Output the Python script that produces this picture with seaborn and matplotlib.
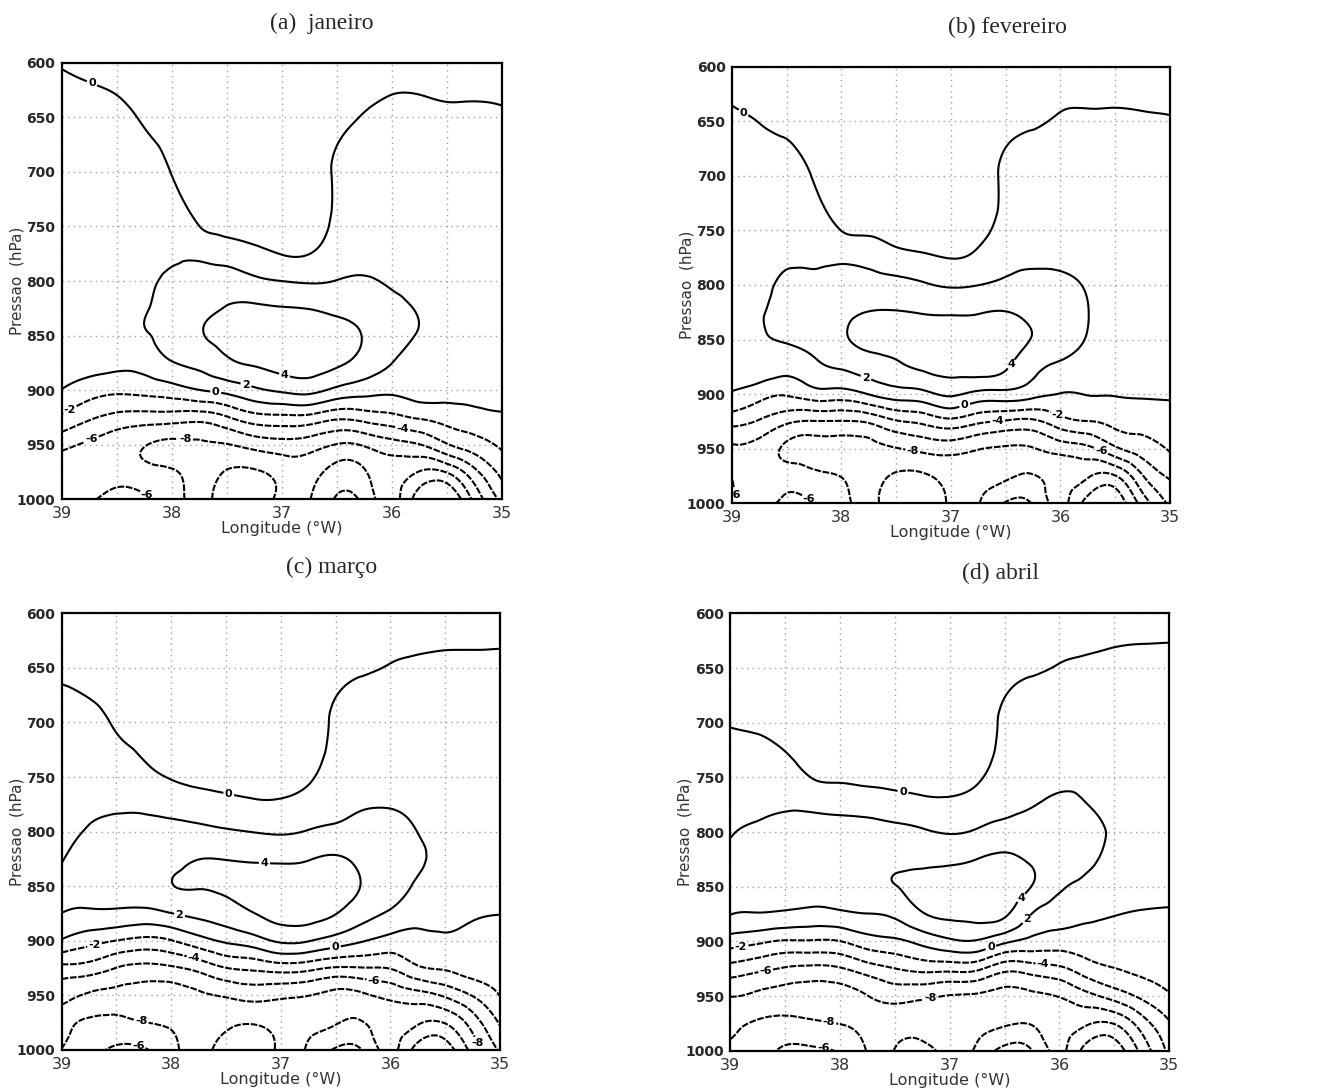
import numpy as np
import matplotlib
matplotlib.use("Agg")
import matplotlib.pyplot as plt
import matplotlib.tri as mtri
import seaborn as sns

sns.set_style("white")
plt.rcParams["font.family"] = ["DejaVu Sans"]

# Grid of the cross-section (longitude in degrees W, pressure in hPa)
lons = [39.0, 38.75, 38.5, 38.25, 38.0, 37.75, 37.5, 37.25, 37.0,
        36.75, 36.5, 36.25, 36.0, 35.75, 35.5, 35.25, 35.0]
plevs = [600, 650, 700, 750, 775, 800, 825, 850, 875, 900, 925, 950, 975, 1000]
clevs = [-12, -10, -8, -6, -4, -2, 0, 2, 4]
label_levs = [-8, -6, -4, -2, 0, 2, 4]

# Values: one profile per longitude (600 -> 1000 hPa)
jan = [
    [-0.15, 0.9, 1.1, 1.3, 1.4, 1.5, 1.6, 1.6, 1.0, -0.05, -2.4, -5.4, -7.2, -7.0],
    [-0.6, 0.8, 1.1, 1.3, 1.4, 1.5, 1.7, 1.7, 0.9, -1.1, -3.7, -6.4, -7.5, -6.4],
    [-1.0, 0.5, 1.1, 1.3, 1.4, 1.6, 1.8, 1.8, 0.6, -1.6, -4.6, -7.2, -7.0, -5.0],
    [-1.3, -0.2, 0.8, 1.2, 1.4, 1.7, 1.9, 1.9, 0.8, -1.4, -4.9, -7.9, -7.4, -5.6],
    [-1.5, -0.8, -0.05, 1.3, 1.8, 2.3, 2.6, 2.6, 1.9, -0.9, -5.0, -8.4, -7.8, -7.0],
    [-1.5, -1.2, -0.8, 0.02, 1.6, 2.6, 3.4, 3.8, 2.5, -0.05, -5.2, -8.3, -9.0, -9.2],
    [-1.6, -1.4, -1.0, -0.5, 1.1, 2.9, 4.1, 4.6, 3.6, 0.6, -4.2, -8.1, -10.1, -10.6],
    [-1.7, -1.5, -1.2, -0.7, 0.5, 2.4, 4.3, 5.0, 4.2, 1.6, -2.8, -7.3, -10.2, -10.8],
    [-1.8, -1.6, -1.3, -0.9, -0.05, 2.0, 4.1, 5.0, 4.6, 2.3, -2.5, -6.8, -9.4, -9.6],
    [-1.8, -1.6, -1.3, -0.8, -0.02, 1.8, 3.95, 5.0, 4.8, 2.6, -2.6, -7.1, -9.2, -9.9],
    [-1.6, -0.6, 0.3, 0.4, 0.9, 2.05, 3.6, 4.6, 4.3, 1.5, -3.6, -8.1, -10.8, -12.2],
    [-1.3, 0.1, 0.8, 1.0, 1.4, 2.2, 3.3, 3.9, 3.3, 0.8, -3.2, -7.8, -10.2, -11.4],
    [-1.0, 0.5, 0.9, 1.2, 1.5, 1.8, 2.5, 2.7, 2.02, 0.4, -2.6, -6.8, -9.0, -9.3],
    [-1.0, 0.5, 0.9, 1.2, 1.4, 1.6, 1.9, 1.9, 1.4, 0.8, -1.8, -6.1, -10.1, -13.2],
    [-1.0, 0.3, 0.8, 1.1, 1.3, 1.4, 1.6, 1.6, 1.3, 0.9, -1.3, -4.2, -9.9, -14.3],
    [-1.0, 0.3, 0.8, 1.0, 1.2, 1.3, 1.4, 1.5, 1.4, 1.0, -0.8, -2.9, -6.6, -9.5],
    [-1.0, 0.2, 0.7, 0.9, 1.0, 1.1, 1.2, 1.3, 1.2, 0.9, -0.3, -1.7, -3.4, -5.5],
]

fev = [
    [-1.0, 0.4, 1.0, 1.2, 1.3, 1.4, 1.5, 1.5, 1.0, -0.2, -3.3, -6.3, -6.05, -5.8],
    [-1.4, -0.05, 0.9, 1.3, 1.5, 1.7, 1.9, 1.9, 1.3, -1.2, -4.2, -6.9, -7.6, -6.6],
    [-1.6, -0.6, 1.0, 1.5, 1.8, 2.2, 2.4, 2.15, 0.7, -1.8, -5.6, -8.3, -7.0, -5.6],
    [-1.7, -1.1, -0.15, 1.2, 1.75, 2.4, 2.9, 2.8, 1.5, -0.9, -6.1, -8.6, -7.6, -5.9],
    [-1.8, -1.5, -1.0, -0.02, 1.6, 2.8, 3.5, 3.7, 2.2, -0.9, -6.1, -8.7, -8.05, -7.2],
    [-1.8, -1.6, -1.2, -0.3, 1.4, 2.7, 4.05, 4.6, 2.9, 0.05, -5.7, -8.6, -9.2, -9.4],
    [-1.8, -1.7, -1.4, -0.8, 0.7, 2.6, 4.1, 4.8, 3.6, 1.0, -4.2, -8.1, -10.2, -10.6],
    [-1.8, -1.7, -1.5, -1.0, 0.3, 2.2, 3.9, 4.9, 4.3, 1.4, -3.5, -7.5, -10.2, -10.8],
    [-1.8, -1.8, -1.5, -1.1, -0.05, 1.8, 3.8, 5.0, 4.6, 2.3, -2.6, -7.2, -9.5, -9.8],
    [-1.8, -1.6, -1.2, -0.5, 0.4, 1.98, 3.9, 5.0, 4.9, 1.4, -3.6, -7.9, -9.5, -9.9],
    [-1.5, -0.6, 0.4, 0.6, 1.3, 2.4, 4.05, 4.8, 4.2, 1.3, -4.2, -8.2, -9.7, -12.2],
    [-1.4, -0.2, 0.8, 1.1, 1.6, 2.6, 3.5, 3.9, 2.6, 0.6, -4.4, -8.1, -10.1, -11.8],
    [-1.2, 0.2, 0.9, 1.3, 1.7, 2.3, 2.8, 2.9, 1.6, -0.05, -2.8, -7.2, -9.3, -9.5],
    [-1.2, 0.3, 1.0, 1.3, 1.6, 1.9, 2.02, 1.9, 1.2, 0.05, -2.05, -6.5, -9.8, -13.0],
    [-1.2, 0.3, 0.9, 1.2, 1.4, 1.5, 1.6, 1.6, 1.1, 0.1, -1.5, -4.4, -10.1, -13.5],
    [-1.1, 0.2, 0.8, 1.1, 1.2, 1.3, 1.4, 1.4, 1.0, 0.2, -1.2, -3.0, -6.1, -9.2],
    [-1.0, 0.1, 0.6, 0.9, 1.0, 1.1, 1.2, 1.2, 0.9, 0.2, -0.7, -1.8, -3.7, -5.6],
]

mar = [
    [-1.4, -0.3, 0.6, 1.0, 1.2, 1.6, 1.95, 2.3, 1.98, -0.2, -4.6, -7.4, -8.6, -7.95],
    [-1.6, -0.7, 0.5, 1.2, 1.7, 2.1, 2.4, 2.4, 1.7, -1.3, -4.9, -8.2, -7.7, -6.6],
    [-1.7, -1.1, -0.2, 1.2, 1.8, 2.4, 2.7, 2.7, 1.6, -2.05, -6.05, -8.4, -7.5, -5.7],
    [-1.8, -1.5, -0.8, 0.5, 1.6, 2.6, 3.2, 3.2, 1.4, -2.6, -6.6, -8.7, -7.95, -5.8],
    [-1.8, -1.7, -1.2, -0.1, 1.2, 2.6, 3.5, 3.95, 1.95, -2.1, -6.3, -8.8, -8.3, -7.4],
    [-1.8, -1.7, -1.4, -0.5, 0.9, 2.5, 3.98, 4.1, 2.5, -0.8, -5.4, -8.3, -9.0, -9.3],
    [-1.8, -1.7, -1.5, -0.8, 0.6, 2.2, 3.95, 4.3, 3.1, 0.3, -4.05, -7.8, -9.7, -10.5],
    [-1.8, -1.7, -1.6, -1.0, 0.3, 1.95, 3.8, 4.6, 3.95, 1.1, -3.6, -7.3, -9.9, -10.7],
    [-1.8, -1.7, -1.6, -1.0, 0.3, 1.8, 3.7, 4.8, 4.5, 2.3, -3.1, -7.6, -9.6, -9.8],
    [-1.8, -1.6, -1.3, -0.3, 0.8, 2.1, 3.9, 4.9, 4.6, 2.1, -3.4, -7.95, -9.6, -10.2],
    [-1.6, -0.7, 0.4, 0.9, 1.3, 2.5, 4.2, 4.8, 4.05, 1.1, -4.2, -8.6, -9.9, -12.3],
    [-1.5, -0.2, 0.9, 1.3, 1.8, 2.8, 3.6, 3.9, 2.8, 0.1, -4.1, -8.3, -10.05, -11.9],
    [-1.3, 0.1, 1.0, 1.5, 1.9, 2.6, 3.0, 2.9, 1.7, -0.7, -3.9, -7.5, -9.2, -9.5],
    [-1.2, 0.3, 1.0, 1.4, 1.7, 1.98, 2.2, 1.8, 0.9, -0.6, -2.3, -6.8, -9.8, -13.0],
    [-1.2, 0.4, 0.9, 1.2, 1.4, 1.6, 1.7, 1.6, 1.0, -0.4, -1.8, -5.7, -9.9, -13.2],
    [-1.2, 0.4, 0.9, 1.2, 1.3, 1.5, 1.5, 1.4, 0.4, -0.7, -1.2, -3.9, -7.1, -9.3],
    [-1.1, 0.4, 0.8, 1.1, 1.2, 1.3, 1.3, 1.2, 0.05, -0.6, -1.2, -1.95, -3.8, -5.7],
]

abr = [
    [-1.8, -1.2, -0.1, 1.0, 1.5, 1.9, 2.2, 2.3, 2.05, -1.0, -4.8, -7.95, -8.5, -7.6],
    [-1.8, -1.4, -0.3, 1.2, 1.6, 2.3, 2.5, 2.4, 1.9, -1.6, -5.5, -8.3, -7.8, -6.8],
    [-1.8, -1.6, -0.7, 0.9, 1.8, 2.5, 2.7, 2.6, 1.7, -2.2, -6.2, -8.6, -7.4, -5.7],
    [-1.8, -1.7, -1.2, -0.05, 1.6, 2.6, 3.0, 2.9, 1.4, -2.2, -6.5, -8.8, -7.7, -5.7],
    [-1.8, -1.7, -1.5, -0.3, 1.4, 2.7, 3.3, 3.2, 1.6, -2.05, -6.2, -8.8, -8.05, -6.2],
    [-1.8, -1.7, -1.6, -0.5, 1.2, 2.7, 3.5, 3.6, 1.95, -0.9, -5.0, -8.05, -8.6, -8.1],
    [-1.8, -1.7, -1.6, -0.7, 0.9, 2.5, 3.6, 3.95, 2.4, -0.4, -4.05, -7.3, -9.3, -10.05],
    [-1.8, -1.7, -1.7, -1.0, 0.6, 2.2, 3.6, 4.5, 3.85, 0.6, -3.4, -7.6, -9.4, -10.4],
    [-1.8, -1.7, -1.7, -1.1, 0.5, 1.9, 3.6, 4.9, 4.4, 1.6, -3.4, -8.1, -9.3, -9.6],
    [-1.8, -1.7, -1.3, -0.3, 0.9, 2.2, 4.02, 5.0, 4.6, 1.8, -3.6, -8.3, -9.6, -10.3],
    [-1.6, -0.7, 0.4, 0.9, 1.4, 2.8, 4.3, 4.9, 4.3, 0.4, -5.4, -8.6, -9.8, -12.8],
    [-1.5, -0.2, 0.9, 1.4, 1.9, 3.0, 3.8, 3.95, 1.95, -0.6, -5.0, -8.4, -9.9, -12.1],
    [-1.3, 0.1, 1.0, 1.7, 2.3, 2.9, 3.1, 2.3, 0.9, -1.0, -4.4, -7.9, -9.3, -9.6],
    [-1.2, 0.3, 1.1, 1.7, 2.02, 2.5, 2.3, 1.6, 0.5, -1.0, -2.9, -6.6, -9.8, -13.0],
    [-1.1, 0.5, 1.1, 1.5, 1.7, 1.8, 1.7, 1.3, 0.1, -1.0, -2.05, -5.2, -9.9, -13.3],
    [-1.1, 0.6, 1.1, 1.4, 1.5, 1.5, 1.4, 1.0, -0.2, -1.0, -1.6, -3.6, -7.0, -9.4],
    [-1.0, 0.6, 1.0, 1.3, 1.4, 1.4, 1.3, 0.8, -0.25, -0.8, -1.3, -2.2, -4.2, -5.5],
]

titles = ["(a)  janeiro", "(b) fevereiro", "(c) março", "(d) abril"]
fields = [jan, fev, mar, abr]

# layout (figure fractions)
rects = [[0.0461, 0.5423, 0.3289, 0.4002],
         [0.5469, 0.5387, 0.3276, 0.4002],
         [0.0461, 0.0376, 0.3276, 0.4003],
         [0.5456, 0.0369, 0.3283, 0.4009]]
title_pos = [(0.2407, 0.979), (0.7526, 0.975), (0.2480, 0.480), (0.7474, 0.474)]

# smooth (C1) interpolation of the coarse grid, like GrADS' smoothed contours
LON, P = np.meshgrid(lons, plevs)
tri = mtri.Triangulation((LON * 100).ravel(), P.ravel())
fine_lon = np.linspace(35, 39, 161)
fine_p = np.linspace(600, 1000, 201)
FLON, FP = np.meshgrid(fine_lon, fine_p)

fig = plt.figure(figsize=(13.38, 10.91), dpi=100)

for rect, field, title, tpos in zip(rects, fields, titles, title_pos):
    ax = fig.add_axes(rect)
    z = np.array(field).T
    interp = mtri.CubicTriInterpolator(tri, z.ravel(), kind="min_E")
    zf = interp(FLON * 100, FP)
    cs = ax.contour(fine_lon, fine_p, zf, levels=clevs, colors="black",
                    linewidths=1.5, negative_linestyles=(0, (3.2, 0.8)))
    labels = ax.clabel(cs, levels=label_levs, fmt="%d", fontsize=8, inline=True,
                       inline_spacing=2)
    for t in labels:
        t.set_rotation(0)
        t.set_fontweight("bold")

    ax.set_xlim(39, 35)
    ax.set_ylim(1000, 600)
    ax.set_xticks([39, 38, 37, 36, 35])
    ax.set_xticklabels(["39", "38", "37", "36", "35"])
    ax.set_xticks([38.5, 37.5, 36.5, 35.5], minor=True)
    ax.set_yticks(np.arange(600, 1001, 50))
    ax.grid(True, which="both", color="#a0a0a0", linestyle=(0, (1, 3)), linewidth=1)
    ax.set_axisbelow(True)
    ax.tick_params(axis="x", which="major", direction="out", length=3,
                   labelsize=11.5, colors="#333333", pad=2)
    ax.tick_params(axis="x", which="minor", length=0)
    ax.tick_params(axis="y", direction="out", length=3, labelsize=10, pad=1.5)
    for lab in ax.get_yticklabels():
        lab.set_fontweight("bold")
    for s in ax.spines.values():
        s.set_linewidth(1.6)
        s.set_color("black")
    ax.set_xlabel("Longitude (°W)", fontsize=11.5, labelpad=0, color="#333333")
    ax.set_ylabel("Pressao  (hPa)", fontsize=11, color="#333333")
    ax.yaxis.set_label_coords(-0.085, 0.5)

    fig.text(tpos[0], tpos[1], title, ha="center", va="center", fontsize=17,
             family=["Liberation Serif", "DejaVu Serif"])

fig.savefig("out.png", dpi=100)
